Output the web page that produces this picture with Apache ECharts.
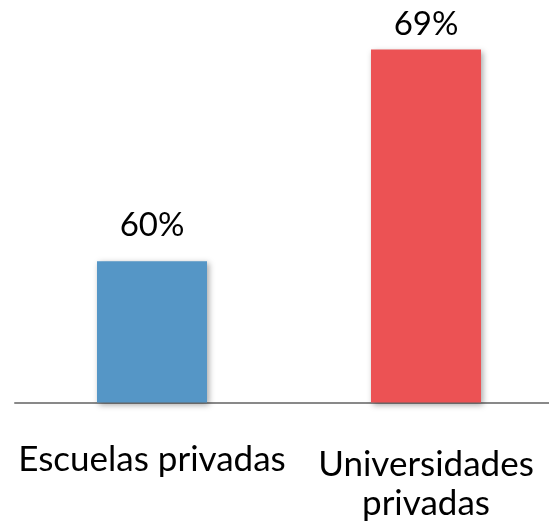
<!DOCTYPE html>
<html>
<head>
<meta charset="utf-8">
<script src="https://cdn.jsdelivr.net/npm/echarts@6/dist/echarts.min.js"></script>
<style>
  html, body { margin: 0; padding: 0; background: #fff; overflow: hidden; }
  /* the original plot runs past the right edge, so the chart is a bit wider than the window */
  #chart { width: 563px; height: 524px; }
</style>
</head>
<body>
<div id="chart"></div>
<script>
const categories = ['Escuelas privadas', 'Universidades\nprivadas'];
const values = [60, 69];
const colors = ['#5596C6', '#EC5254'];
const labelGaps = [19, 9];
const labelPadTop = [0, 5];

const chart = echarts.init(document.getElementById('chart'));
chart.setOption({
  animation: false,
  grid: { left: 15, right: 0, top: 26, bottom: 121.5 },
  xAxis: {
    type: 'category',
    data: categories.map((c, i) => ({
      value: c,
      textStyle: { padding: [labelPadTop[i], 0, 0, 0] }
    })),
    axisLine: { lineStyle: { color: '#898989', width: 2 } },
    axisTick: { show: false },
    axisLabel: {
      interval: 0,
      margin: 38,
      fontFamily: 'Lato',
      fontSize: 35,
      lineHeight: 39,
      color: '#000'
    }
  },
  yAxis: {
    type: 'value',
    min: 54,
    max: 70,
    show: false
  },
  series: [{
    type: 'bar',
    barWidth: 110,
    data: values.map((v, i) => ({
      value: v,
      itemStyle: {
        color: colors[i],
        shadowColor: 'rgba(0,0,0,0.35)',
        shadowBlur: 6,
        shadowOffsetX: 2,
        shadowOffsetY: 2
      },
      label: { distance: labelGaps[i] }
    })),
    label: {
      show: true,
      position: 'top',
      formatter: p => p.value + '%',
      fontFamily: 'Lato',
      fontSize: 33,
      color: '#000'
    }
  }]
});
</script>
</body>
</html>
